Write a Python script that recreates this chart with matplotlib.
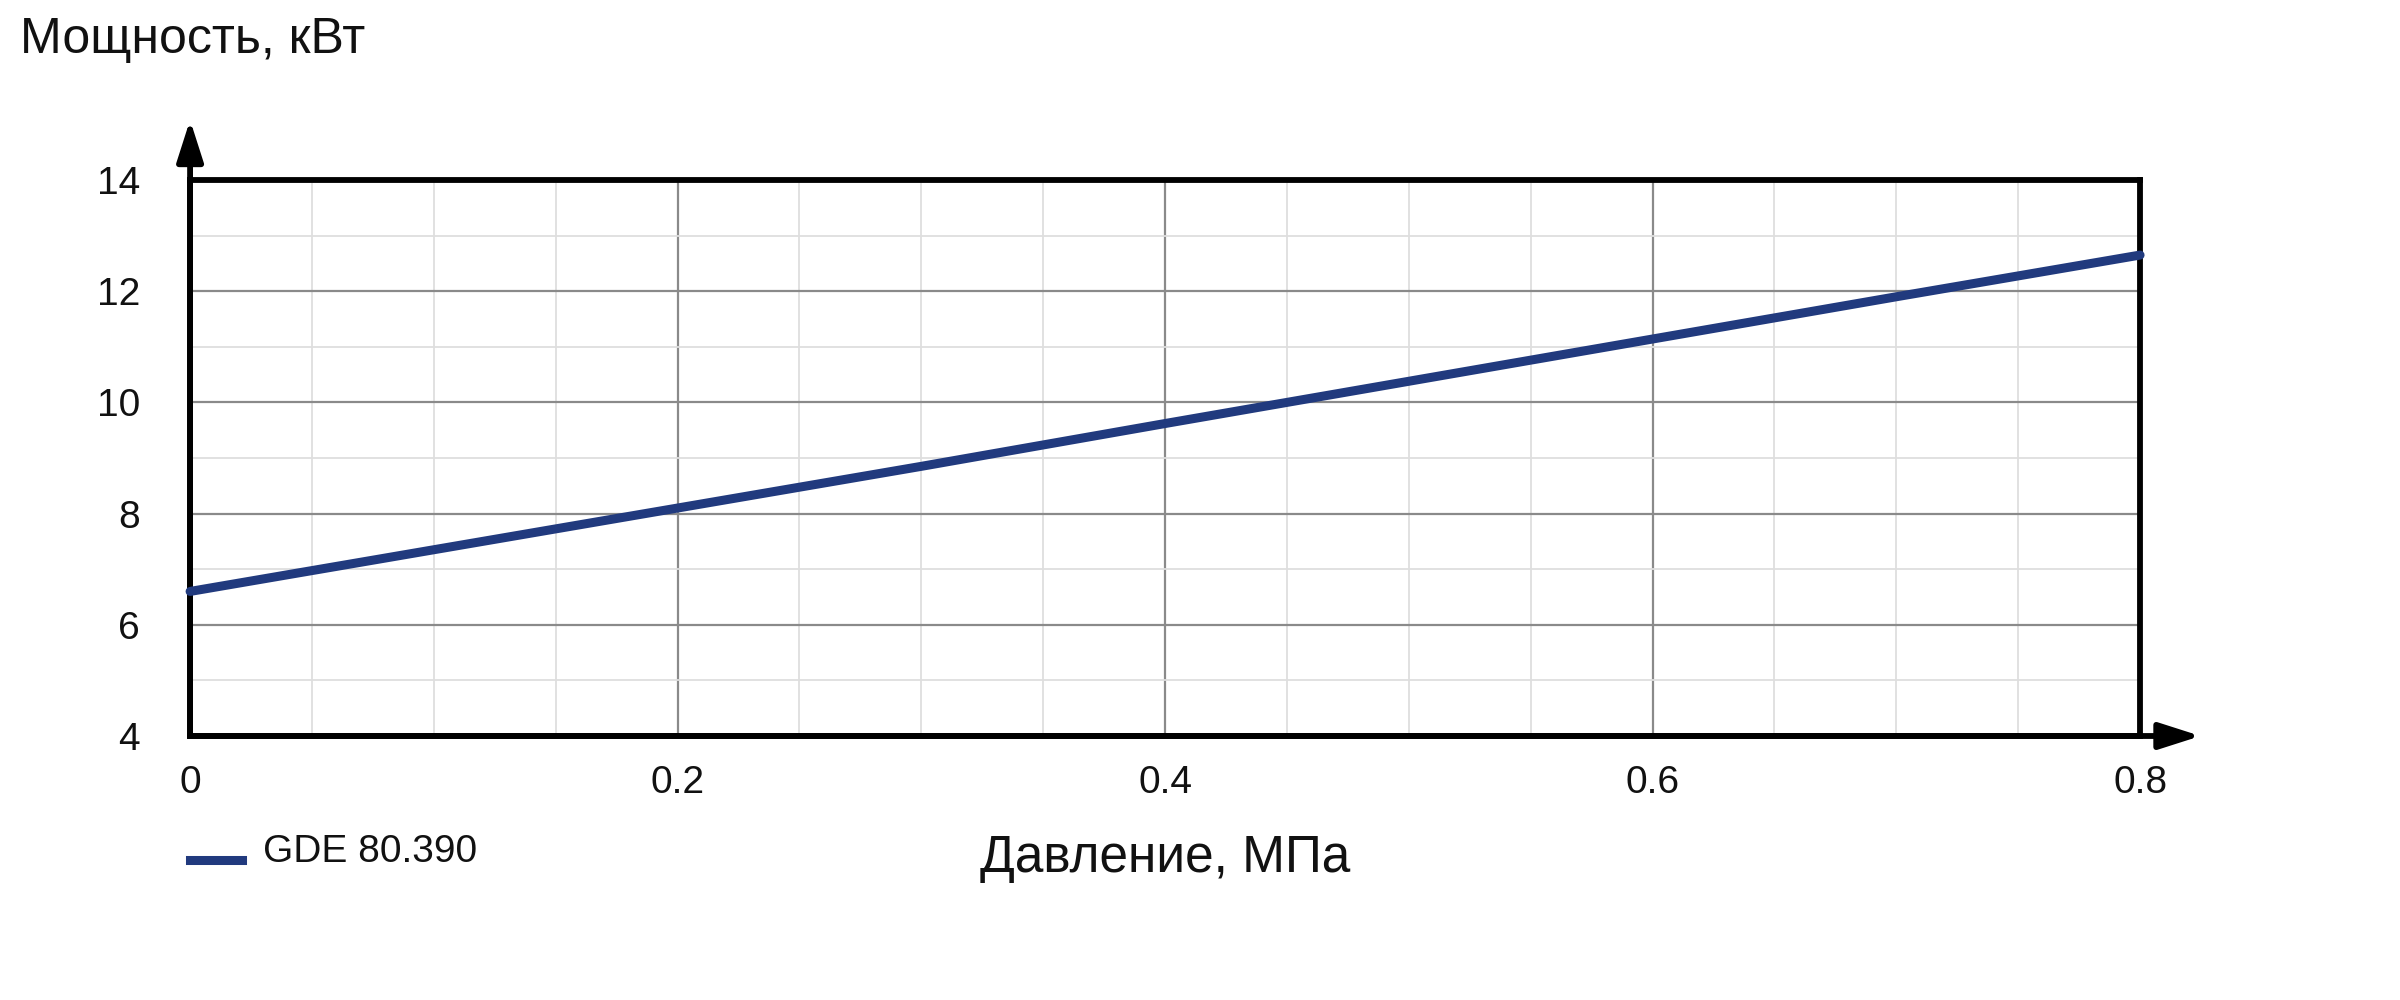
import matplotlib
matplotlib.use("Agg")
import matplotlib.pyplot as plt
from matplotlib.ticker import MultipleLocator

plt.rcParams['font.family'] = ['Liberation Sans', 'DejaVu Sans']

# данные
davlenie = [0.0, 0.1, 0.2, 0.3, 0.4, 0.5, 0.6, 0.7, 0.8]
moshchnost = [6.6, 7.35, 8.1, 8.85, 9.62, 10.38, 11.14, 11.9, 12.65]
x_ticks = [0, 0.2, 0.4, 0.6, 0.8]
x_labels = ['0', '0.2', '0.4', '0.6', '0.8']
y_ticks = [4, 6, 8, 10, 12, 14]
seria = 'GDE 80.390'

fig = plt.figure(figsize=(24, 10), dpi=100)
ax = fig.add_axes([0.0792, 0.264, 0.8125, 0.556])

ax.plot(davlenie, moshchnost, color='#213a7e', lw=6.5, solid_capstyle='round',
        clip_on=False, zorder=5, label=seria)

ax.set_xlim(0, 0.8)
ax.set_ylim(4, 14)
ax.set_xticks(x_ticks)
ax.set_xticklabels(x_labels)
ax.set_yticks(y_ticks)
ax.xaxis.set_minor_locator(MultipleLocator(0.05))
ax.yaxis.set_minor_locator(MultipleLocator(1))
ax.grid(which='major', color='#8a8a8a', lw=1.6)
ax.grid(which='minor', color='#dedede', lw=1.3)
ax.set_axisbelow(True)
ax.tick_params(which='both', length=0, labelsize=28, labelcolor='#111111')
ax.tick_params(axis='x', pad=21)
ax.tick_params(axis='y', pad=36)

for s in ax.spines.values():
    s.set_color('black')
    s.set_linewidth(4.2)

# стрелки осей
strelka = dict(arrowstyle='-|>,head_length=1.25,head_width=0.4',
               color='black', lw=4.2, shrinkA=0, shrinkB=0, mutation_scale=20)
ax.annotate('', xy=(0, 1.108), xytext=(0, 0), xycoords='axes fraction',
            arrowprops=strelka, annotation_clip=False)
ax.annotate('', xy=(1.031, 0), xytext=(0, 0), xycoords='axes fraction',
            arrowprops=strelka, annotation_clip=False)

fig.text(20 / 2400, 1 - 53 / 1000, 'Мощность, кВт', fontsize=36, ha='left',
         va='baseline', color='#111111')
fig.text(1165 / 2400, 1 - 872 / 1000, 'Давление, МПа', fontsize=37, ha='center',
         va='baseline', color='#111111')

# легенда
fig.add_artist(plt.Line2D([190 / 2400, 242 / 2400], [1 - 860 / 1000, 1 - 860 / 1000],
                          color='#213a7e', lw=6.5))
fig.text(263 / 2400, 1 - 852 / 1000, seria, fontsize=28, ha='left', va='center',
         color='#111111')

fig.savefig('out.png', dpi=100)
